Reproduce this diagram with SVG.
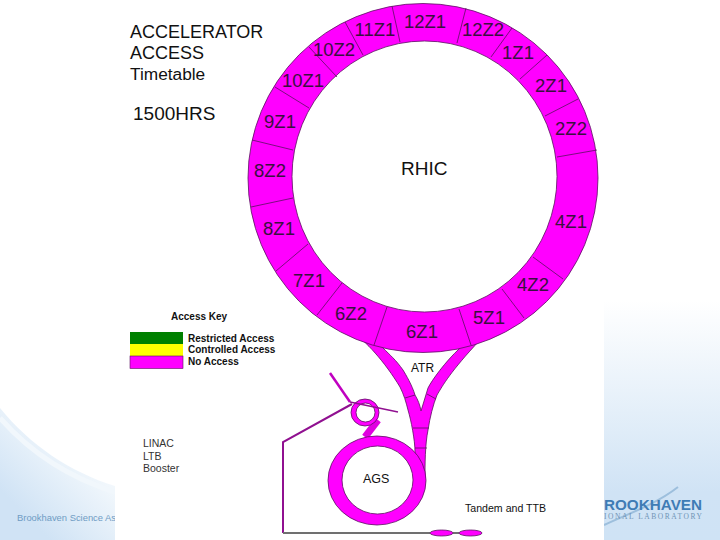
<svg xmlns="http://www.w3.org/2000/svg" width="720" height="540" viewBox="0 0 720 540">
<defs>
<linearGradient id="bgr" x1="0" y1="0" x2="0" y2="1"><stop offset="0" stop-color="#fff"/><stop offset="0.55" stop-color="#dfecf8"/><stop offset="0.8" stop-color="#d0e3f5"/><stop offset="1" stop-color="#cfe3f5"/></linearGradient>
<linearGradient id="bgl" gradientUnits="userSpaceOnUse" x1="105" y1="465" x2="40" y2="530"><stop offset="0" stop-color="#f6fafd"/><stop offset="1" stop-color="#d0e3f5"/></linearGradient>
</defs>
<style>
text{font-family:"Liberation Sans",Arial,sans-serif;fill:#111}
.z{font-size:18.500px;fill:#3a1040;text-anchor:middle}
.m{fill:#f0f;stroke:#5a1060;stroke-width:.8}
.d{stroke:#5a1060;stroke-width:.8;fill:none}
.k{font-size:10px;font-weight:bold}
.s{font-size:10.500px;fill:#333}
.t{font-size:18px}
</style>
<rect width="720" height="540" fill="#fff"/>
<rect x="604" y="300" width="116" height="240" fill="url(#bgr)"/>
<path d="M0 408C30 445 70 472 115 486V540H0Z" fill="url(#bgl)"/>
<path d="M0 418C30 452 70 478 115 492" fill="none" stroke="#f1f7fc" stroke-width="5"/>
<text x="17" y="521" font-size="9.400" style="fill:#6f9cc4">Brookhaven Science As</text>
<path d="M604 525C625 515 655 505 678 487" fill="none" stroke="#9dbfdd" stroke-width="2"/>
<text x="604" y="510" font-size="15" font-weight="bold" textLength="98" lengthAdjust="spacingAndGlyphs" style="fill:#3f7cb5">ROOKHAVEN</text>
<text x="604" y="519" font-size="7.500" textLength="98" style="font-family:'Liberation Serif',serif;fill:#6f93b5">IONAL LABORATORY</text>
<rect x="115" width="489" height="540" fill="#fff"/>
<g id="title"><text class="t" x="130" y="38">ACCELERATOR</text><text class="t" x="130" y="59">ACCESS</text><text x="130" y="80" font-size="17.300">Timetable</text><text x="133" y="120" font-size="19">1500HRS</text></g>
<g id="atr"><path class="m" d="M352 332C365 340 385 362 400 387C404 395 406 402 408 410C411 420 415 440 415 452L425 478C425 465 425 445 428 430C430 417 433 405 437 395C443 385 450 372 480 340L462 340L460 348C445 362 432 380 428 388L421 411C420 405 418 400 415 395C412 385 406 375 403 370C396 360 390 355 383 348L378 338Z"/>
<text x="411" y="372" font-size="12">ATR</text></g>
<g id="rhic"><path class="m" fill-rule="evenodd" d="M248 178A175 174.500 0 1 1 598 178A175 174.500 0 1 1 248 178ZM292 176.500A132.500 135.500 0 1 0 557 176.500A132.500 135.500 0 1 0 292 176.500Z"/>
<text x="401" y="175" font-size="19">RHIC</text></g>
<g id="connectors">
<path class="d" d="M392 6L400 42M466 8L457 43M512 28L491 57M547 55L520 79M578 99L545 116M597 150L557 157M563 279L533 257M524 318L502 289M471 345L459 309M374 345L387 307M317 315L342 283M276 271L308 244M251 207L293 198M252 140L293 150M275 87L309 108M309 47L337 77M345 22L363 55M405 398L415 395M427 394L436 399M413 428H429M415 448H427"/>
<path d="M378 420L365 437" stroke="#e000e0" stroke-width="7" fill="none"/>
<path class="m" fill-rule="evenodd" d="M351 412.500A14 13.500 0 1 1 379 412.500A14 13.500 0 1 1 351 412.500ZM356 412.500A9.500 9.500 0 1 0 375 412.500A9.500 9.500 0 1 0 356 412.500Z"/>
<path d="M330 373L350 402" stroke="#c000c0" stroke-width="2.500" fill="none"/>
<path d="M350 402L398 412" stroke="#901090" stroke-width="1.500" fill="none"/>
<path d="M352 404L283 442V533" stroke="#901090" stroke-width="2" fill="none"/>
<path d="M283 533H430M453 533H459" stroke="#707070" stroke-width="2" fill="none"/>
<ellipse class="m" cx="441.500" cy="533" rx="11.500" ry="3"/><ellipse class="m" cx="470.500" cy="533" rx="11.500" ry="3"/>
</g>
<g id="ags"><path class="m" fill-rule="evenodd" d="M328 480.500A49 44.500 0 1 1 426 480.500A49 44.500 0 1 1 328 480.500ZM342 480A35.500 34 0 1 0 413 480A35.500 34 0 1 0 342 480Z"/>
<text x="363" y="483" font-size="12.500">AGS</text></g>
<g id="labels">
<text class="z" x="375" y="36">11Z1</text><text class="z" x="425" y="28">12Z1</text><text class="z" x="483" y="36">12Z2</text><text class="z" x="518" y="59">1Z1</text><text class="z" x="551" y="92">2Z1</text><text class="z" x="571" y="135">2Z2</text><text class="z" x="571" y="228">4Z1</text><text class="z" x="533" y="291">4Z2</text><text class="z" x="489" y="324">5Z1</text><text class="z" x="422" y="338">6Z1</text><text class="z" x="351" y="320">6Z2</text><text class="z" x="309" y="287">7Z1</text><text class="z" x="279" y="235">8Z1</text><text class="z" x="270" y="177">8Z2</text><text class="z" x="280" y="128">9Z1</text><text class="z" x="303" y="87">10Z1</text><text class="z" x="334" y="56">10Z2</text>
<text x="465" y="512" font-size="10.600">Tandem and TTB</text>
<text class="s" x="143" y="447">LINAC</text><text class="s" x="143" y="460">LTB</text><text class="s" x="143" y="472">Booster</text>
</g>
<g id="key"><text class="k" x="171" y="320">Access Key</text>
<rect x="130" y="332" width="53" height="12" fill="#008000"/><rect x="130" y="344" width="53" height="12" fill="#ff0"/><rect x="130" y="356" width="53" height="12.500" fill="#f0f" stroke="#5a1060" stroke-width=".6"/>
<text class="k" x="188" y="342">Restricted Access</text><text class="k" x="188" y="353">Controlled Access</text><text class="k" x="188" y="365">No Access</text></g>
</svg>
